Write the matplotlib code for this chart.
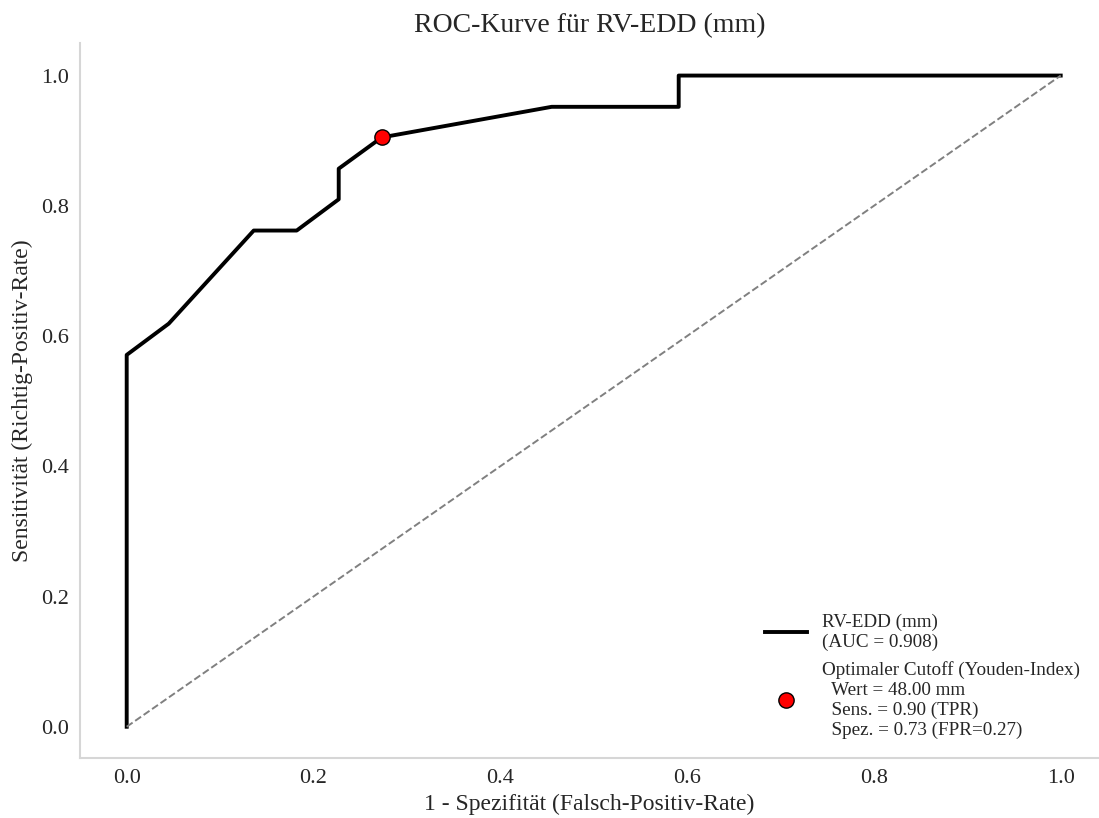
import matplotlib
matplotlib.use("Agg")
import matplotlib.pyplot as plt

# ROC data for RV-EDD
fpr = [0.0, 0.0, 0.045, 0.136, 0.182, 0.227, 0.227, 0.273, 0.455, 0.591, 0.591, 1.0]
tpr = [0.0, 0.571, 0.619, 0.762, 0.762, 0.810, 0.857, 0.905, 0.952, 0.952, 1.0, 1.0]
auc = 0.908

# Youden cutoff
cut_fpr = 0.273
cut_tpr = 0.905
cut_value = 48.00
cut_sens = 0.90
cut_spec = 0.73
cut_fpr_txt = 0.27

ticks = [0.0, 0.2, 0.4, 0.6, 0.8, 1.0]

plt.rcParams['font.family'] = ['Liberation Serif', 'DejaVu Serif']

fig = plt.figure(figsize=(10.99, 8.18), dpi=100)
ax = fig.add_axes([80 / 1099, 1 - 758 / 818, 1019 / 1099, 715 / 818])

ax.plot(fpr, tpr, color='black', lw=2.8,
        label=f'RV-EDD (mm)\n(AUC = {auc:.3f})')
ax.plot([0, 1], [0, 1], color='grey', lw=1.4, ls='--')
ax.plot(cut_fpr, cut_tpr, 'o', color='red', markeredgecolor='black',
        markersize=11, ls='none',
        label=('Optimaler Cutoff (Youden-Index)\n'
               f'  Wert = {cut_value:.2f} mm\n'
               f'  Sens. = {cut_sens:.2f} (TPR)\n'
               f'  Spez. = {cut_spec:.2f} (FPR={cut_fpr_txt:.2f})'))

ax.set_xlim(-0.05, 1.041)
ax.set_ylim(-0.048, 1.05)
ax.set_xticks(ticks)
ax.set_yticks(ticks)
ax.tick_params(labelsize=16, length=0, pad=8, colors='#262626')

for side in ['top', 'right']:
    ax.spines[side].set_visible(False)
for side in ['left', 'bottom']:
    ax.spines[side].set_color('#d6d6d6')
    ax.spines[side].set_linewidth(1.5)

ax.set_title('ROC-Kurve für RV-EDD (mm)', fontsize=20, color='#262626', pad=8)
ax.set_xlabel('1 - Spezifität (Falsch-Positiv-Rate)', fontsize=17, color='#262626', labelpad=4)
ax.set_ylabel('Sensitivität (Richtig-Positiv-Rate)', fontsize=17, color='#262626', labelpad=6)

ax.legend(loc='lower right', frameon=False, fontsize=13.8,
          labelspacing=0.55, handletextpad=0.75, handlelength=2.2,
          borderaxespad=0.6, labelcolor='#262626')

fig.savefig('out.png', dpi=100)
